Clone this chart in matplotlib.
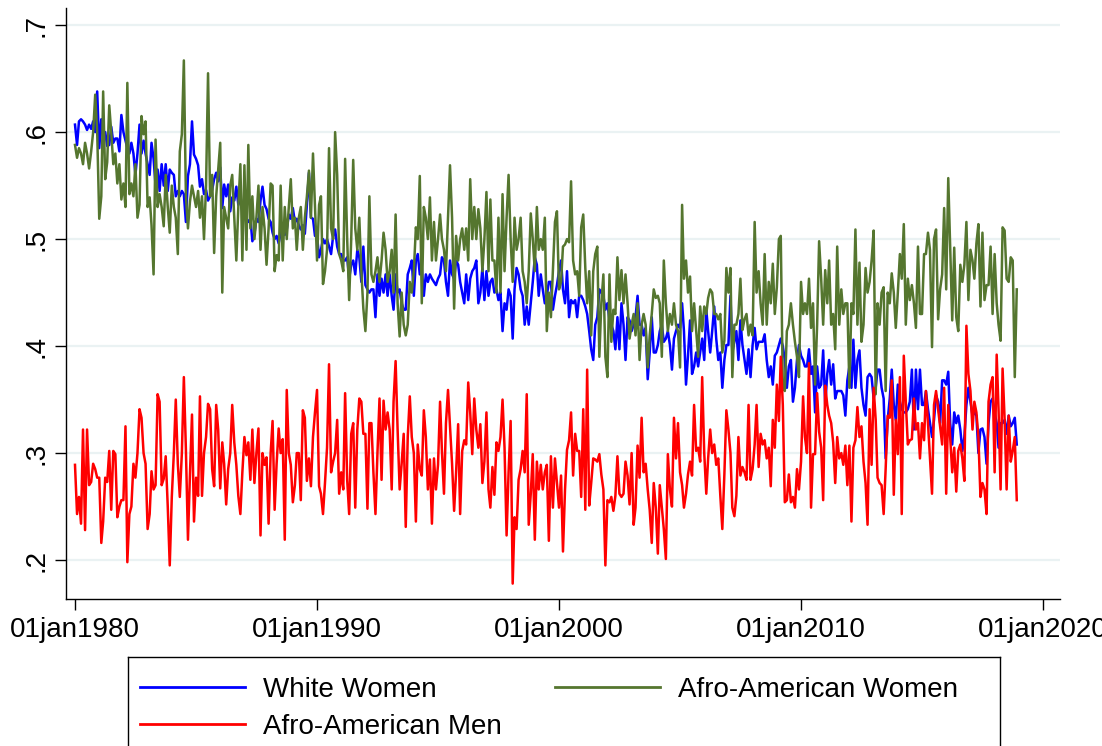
import numpy as np
import pandas as pd
import matplotlib
matplotlib.use("Agg")
import matplotlib.pyplot as plt
import matplotlib.dates as mdates

# monthly shares, Jan 1980 - Dec 2018, one row per year
white_women = [
    .607, .588, .610, .612, .610, .607, .602, .607, .603, .610, .600, .638,
    .585, .612, .595, .600, .587, .588, .605, .590, .594, .594, .582, .616,
    .600, .592, .585, .580, .590, .580, .560, .580, .607, .580, .592, .580,
    .570, .560, .590, .575, .550, .565, .545, .570, .550, .570, .545, .565,
    .562, .560, .540, .545, .540, .545, .542, .516, .559, .570, .610, .579,
    .575, .569, .549, .556, .542, .546, .536, .540, .546, .556, .562, .554,
    .567, .529, .551, .540, .551, .526, .539, .536, .549, .532, .539, .526,
    .539, .519, .516, .519, .498, .505, .519, .516, .536, .549, .532, .528,
    .519, .516, .506, .500, .503, .496, .506, .506, .504, .509, .523, .519,
    .529, .516, .519, .513, .509, .513, .505, .532, .562, .520, .519, .503,
    .503, .483, .490, .500, .496, .500, .493, .486, .503, .509, .493, .486,
    .486, .480, .480, .483, .463, .476, .480, .467, .490, .483, .460, .493,
    .457, .453, .450, .453, .453, .427, .467, .447, .463, .450, .467, .447,
    .467, .447, .434, .467, .450, .453, .440, .434, .434, .467, .473, .480,
    .447, .480, .486, .467, .473, .447, .467, .460, .467, .463, .460, .457,
    .463, .467, .483, .480, .460, .447, .480, .467, .463, .480, .476, .460,
    .450, .440, .467, .443, .463, .470, .473, .480, .440, .450, .473, .443,
    .470, .447, .460, .463, .450, .453, .443, .450, .414, .440, .434, .453,
    .447, .407, .453, .473, .467, .453, .447, .420, .437, .420, .440, .460,
    .483, .476, .447, .467, .453, .440, .447, .460, .460, .434, .447, .457,
    .470, .480, .453, .440, .470, .427, .443, .440, .443, .427, .447, .447,
    .443, .437, .430, .414, .397, .387, .420, .427, .453, .450, .447, .434,
    .440, .424, .420, .414, .397, .427, .397, .440, .420, .387, .427, .424,
    .414, .420, .427, .447, .420, .420, .410, .417, .369, .394, .427, .394,
    .394, .401, .414, .420, .404, .407, .414, .401, .378, .407, .414, .420,
    .417, .440, .414, .364, .391, .424, .374, .381, .394, .381, .394, .407,
    .387, .434, .414, .394, .414, .437, .407, .387, .394, .361, .387, .401,
    .401, .447, .394, .404, .414, .387, .424, .401, .387, .374, .397, .371,
    .401, .417, .397, .404, .404, .404, .411, .387, .371, .381, .364, .391,
    .394, .401, .407, .400, .387, .361, .381, .387, .348, .361, .387, .401,
    .391, .387, .381, .381, .397, .374, .381, .338, .381, .361, .364, .396,
    .345, .374, .387, .364, .383, .351, .358, .358, .358, .354, .335, .368,
    .381, .361, .406, .361, .387, .396, .361, .345, .335, .371, .374, .371,
    .351, .361, .378, .378, .361, .351, .295, .331, .351, .378, .345, .331,
    .364, .348, .341, .338, .338, .341, .348, .378, .322, .378, .341, .378,
    .345, .345, .358, .341, .328, .315, .331, .354, .348, .328, .368, .368,
    .364, .376, .328, .308, .338, .328, .335, .322, .302, .315, .345, .361,
    .348, .335, .338, .335, .300, .322, .323, .315, .290, .328, .348, .351,
    .338, .328, .305, .328, .328, .331, .318, .335, .325, .328, .333, .308,
]

afro_women = [
    .588, .576, .585, .580, .570, .590, .580, .566, .582, .600, .635, .600,
    .519, .540, .638, .556, .572, .625, .600, .570, .580, .552, .570, .537,
    .552, .530, .646, .542, .552, .540, .570, .520, .532, .615, .598, .610,
    .530, .539, .513, .467, .593, .530, .542, .530, .512, .560, .530, .506,
    .550, .530, .520, .486, .582, .598, .667, .540, .510, .535, .550, .540,
    .530, .545, .520, .540, .500, .550, .655, .540, .560, .487, .540, .565,
    .590, .450, .530, .520, .510, .550, .560, .520, .480, .530, .570, .480,
    .569, .490, .588, .510, .540, .500, .520, .550, .490, .530, .510, .476,
    .510, .552, .550, .470, .485, .480, .550, .480, .530, .500, .530, .556,
    .510, .520, .490, .520, .530, .490, .520, .540, .564, .520, .580, .530,
    .480, .532, .540, .458, .470, .490, .585, .510, .500, .600, .560, .486,
    .480, .470, .575, .500, .443, .500, .574, .510, .490, .520, .470, .435,
    .414, .450, .540, .467, .460, .470, .483, .460, .480, .506, .490, .460,
    .470, .490, .450, .523, .440, .409, .450, .420, .410, .420, .460, .450,
    .470, .511, .500, .559, .440, .530, .520, .500, .539, .480, .516, .480,
    .500, .523, .500, .490, .470, .520, .569, .520, .435, .503, .480, .500,
    .510, .490, .510, .480, .556, .500, .530, .500, .528, .510, .470, .500,
    .544, .470, .537, .480, .480, .450, .520, .450, .542, .470, .520, .560,
    .500, .460, .520, .490, .500, .520, .470, .460, .440, .470, .524, .500,
    .470, .530, .490, .500, .490, .520, .414, .450, .427, .470, .516, .526,
    .453, .460, .493, .495, .500, .497, .554, .480, .467, .470, .447, .511,
    .523, .473, .440, .470, .410, .470, .486, .493, .390, .440, .467, .390,
    .371, .467, .404, .434, .430, .483, .443, .471, .440, .467, .440, .407,
    .420, .430, .410, .440, .387, .420, .430, .420, .380, .410, .430, .453,
    .445, .447, .440, .390, .480, .440, .414, .430, .420, .440, .420, .414,
    .380, .532, .463, .480, .450, .465, .414, .440, .414, .390, .437, .414,
    .437, .430, .445, .453, .450, .430, .430, .425, .430, .394, .405, .473,
    .450, .473, .371, .420, .420, .430, .463, .415, .425, .430, .410, .420,
    .410, .516, .450, .470, .440, .420, .486, .420, .460, .440, .477, .430,
    .455, .500, .503, .361, .358, .414, .420, .440, .420, .404, .390, .371,
    .460, .430, .440, .430, .463, .417, .440, .364, .420, .498, .463, .420,
    .471, .440, .480, .420, .430, .397, .493, .420, .453, .430, .440, .440,
    .361, .440, .430, .509, .420, .478, .404, .420, .473, .450, .460, .480,
    .508, .355, .440, .420, .450, .455, .358, .450, .440, .468, .450, .417,
    .450, .486, .463, .514, .420, .463, .443, .457, .440, .417, .493, .430,
    .430, .486, .486, .506, .490, .399, .500, .509, .425, .453, .467, .529,
    .453, .557, .493, .424, .492, .427, .414, .476, .460, .476, .516, .443,
    .490, .480, .463, .496, .514, .437, .506, .443, .457, .457, .493, .430,
    .486, .440, .420, .405, .511, .508, .463, .460, .483, .480, .371, .453,
]

afro_men = [
    .289, .243, .259, .234, .322, .228, .322, .270, .273, .290, .285, .277,
    .277, .216, .236, .277, .273, .302, .247, .302, .299, .240, .250, .256,
    .256, .325, .198, .243, .250, .290, .277, .300, .341, .333, .300, .290,
    .229, .243, .283, .266, .270, .355, .348, .270, .276, .297, .250, .195,
    .259, .300, .350, .290, .259, .300, .371, .303, .219, .280, .336, .236,
    .277, .260, .353, .260, .300, .315, .346, .341, .285, .269, .345, .322,
    .267, .310, .290, .252, .285, .300, .345, .310, .289, .260, .243, .282,
    .315, .298, .310, .275, .322, .272, .300, .323, .223, .300, .289, .296,
    .234, .300, .330, .247, .290, .323, .300, .313, .219, .359, .300, .289,
    .254, .270, .300, .300, .256, .340, .333, .274, .295, .269, .315, .338,
    .359, .269, .262, .243, .272, .305, .383, .282, .292, .300, .331, .262,
    .282, .266, .356, .275, .243, .318, .328, .249, .322, .351, .348, .318,
    .318, .248, .328, .328, .282, .243, .300, .351, .275, .349, .322, .338,
    .322, .266, .348, .386, .322, .266, .290, .318, .231, .315, .353, .315,
    .300, .236, .308, .285, .279, .340, .315, .266, .294, .234, .295, .266,
    .289, .348, .302, .262, .328, .359, .325, .290, .246, .282, .327, .243,
    .302, .312, .308, .366, .338, .299, .351, .322, .305, .327, .272, .292,
    .338, .266, .249, .287, .261, .310, .302, .315, .350, .305, .223, .282,
    .330, .178, .240, .229, .275, .285, .302, .282, .355, .233, .262, .299,
    .219, .292, .266, .289, .266, .282, .289, .218, .297, .249, .295, .272,
    .249, .279, .208, .266, .303, .312, .338, .279, .318, .302, .302, .259,
    .341, .247, .378, .251, .272, .295, .294, .292, .299, .280, .266, .195,
    .256, .254, .259, .246, .260, .297, .262, .259, .262, .292, .279, .252,
    .300, .233, .249, .307, .277, .333, .282, .290, .266, .247, .216, .272,
    .249, .206, .270, .249, .229, .201, .299, .266, .250, .333, .295, .328,
    .282, .270, .249, .262, .280, .292, .279, .345, .302, .305, .292, .371,
    .300, .262, .295, .322, .300, .308, .289, .295, .260, .229, .280, .340,
    .322, .300, .249, .241, .260, .315, .279, .287, .282, .275, .345, .275,
    .285, .308, .345, .287, .318, .308, .312, .295, .305, .269, .331, .305,
    .364, .330, .390, .345, .254, .256, .280, .254, .259, .249, .285, .266,
    .292, .353, .315, .300, .384, .249, .299, .299, .356, .320, .305, .256,
    .363, .345, .335, .328, .310, .272, .315, .295, .300, .289, .307, .270,
    .307, .236, .305, .312, .343, .315, .325, .292, .272, .233, .341, .289,
    .361, .331, .277, .272, .270, .243, .285, .335, .333, .368, .261, .331,
    .299, .371, .243, .391, .348, .308, .312, .313, .351, .322, .328, .295,
    .328, .312, .358, .328, .295, .262, .345, .358, .341, .325, .308, .361,
    .262, .345, .315, .282, .305, .264, .302, .308, .295, .274, .419, .374,
    .358, .322, .348, .338, .315, .259, .272, .266, .243, .348, .364, .371,
    .282, .392, .341, .266, .379, .331, .266, .335, .292, .302, .315, .256,
]

series_names = ["White Women", "Afro-American Women", "Afro-American Men"]
series_colors = ["#0000FF", "#55762F", "#FF0000"]
tick_years = [1980, 1990, 2000, 2010, 2020]
y_ticks = [0.2, 0.3, 0.4, 0.5, 0.6, 0.7]
y_labels = [".2", ".3", ".4", ".5", ".6", ".7"]

months = pd.date_range("1980-01-01", periods=len(white_women), freq="MS")

plt.rcParams["font.family"] = ["Liberation Sans", "DejaVu Sans"]

W, H = 1102, 746
fig = plt.figure(figsize=(W / 100, H / 100), dpi=100)
ax = fig.add_axes([66 / W, 1 - 599 / H, (1060 - 66) / W, (599 - 8) / H])

for y in y_ticks:
    ax.axhline(y, color="#EAF2F3", lw=1.6, zorder=0)

lines = []
for vals, name, col in zip([white_women, afro_women, afro_men], series_names, series_colors):
    ln, = ax.plot(months, vals, color=col, lw=1.8, label=name, zorder=2)
    lines.append(ln)

start = pd.Timestamp("1980-01-01")
ax.set_xlim(mdates.date2num(start) - 4.46 * 30.44,
            mdates.date2num(pd.Timestamp("2020-01-01")) + 8.43 * 30.44)
ax.set_ylim(0.1636, 0.716)

tick_dates = [pd.Timestamp(f"{y}-01-01") for y in tick_years]
ax.set_xticks(mdates.date2num(tick_dates))
ax.set_xticklabels([d.strftime("%d%b%Y").lower() for d in tick_dates], fontsize=20)
ax.set_yticks(y_ticks)
ax.set_yticklabels(y_labels, fontsize=20, rotation=90, va="center")

for side in ["top", "right"]:
    ax.spines[side].set_visible(False)
for side in ["left", "bottom"]:
    ax.spines[side].set_linewidth(1.0)
ax.tick_params(axis="both", length=8, width=1.0, color="black")
ax.tick_params(axis="x", pad=5)
ax.tick_params(axis="y", pad=4)

# legend box, running off the bottom of the figure
lg = fig.add_axes([128 / W, 0, (1000 - 128) / W, (H - 657) / H])
lg.set_xlim(0, 872)
lg.set_ylim(H - 657, 0)
lg.set_xticks([])
lg.set_yticks([])
lg.spines["bottom"].set_visible(False)
for side in ["top", "left", "right"]:
    lg.spines[side].set_linewidth(1.0)
slots = [(12, 30), (427, 30), (12, 67)]
for (x0, y0), ln in zip(slots, lines):
    lg.plot([x0, x0 + 105], [y0, y0], color=ln.get_color(), lw=2.0)
    lg.text(x0 + 123, y0, ln.get_label(), fontsize=20, va="center_baseline", ha="left")

fig.savefig("out.png", dpi=100)
